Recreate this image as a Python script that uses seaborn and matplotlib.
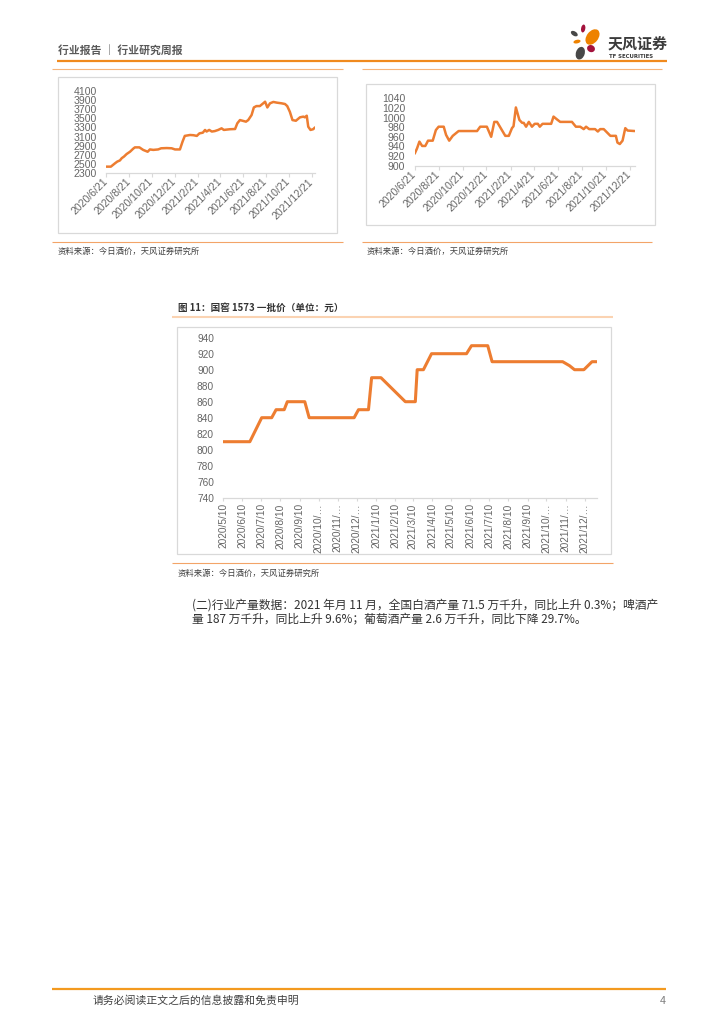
import numpy as np
import pandas as pd
import matplotlib
matplotlib.use("Agg")
import matplotlib.pyplot as plt
import seaborn as sns
from matplotlib.patches import Rectangle, Ellipse

# ---------------- data ----------------
c1_dates = ["2020-06-21", "2020-07-04", "2020-07-15", "2020-07-21", "2020-07-28", "2020-08-02",
            "2020-08-08", "2020-08-15", "2020-08-24", "2020-09-02", "2020-09-06", "2020-09-18",
            "2020-09-28", "2020-10-10", "2020-10-16", "2020-10-25", "2020-11-07", "2020-11-15",
            "2020-11-30", "2020-12-13", "2020-12-22", "2021-01-04", "2021-01-11", "2021-01-17",
            "2021-01-31", "2021-02-09", "2021-02-18", "2021-02-25", "2021-03-06", "2021-03-12",
            "2021-03-16", "2021-03-23", "2021-03-30", "2021-04-07", "2021-04-16", "2021-04-25",
            "2021-05-01", "2021-05-17", "2021-05-31", "2021-06-06", "2021-06-13", "2021-06-20",
            "2021-06-29", "2021-07-05", "2021-07-14", "2021-07-20", "2021-07-27", "2021-08-05",
            "2021-08-14", "2021-08-19", "2021-08-25", "2021-09-01", "2021-09-10", "2021-09-19",
            "2021-10-02", "2021-10-11", "2021-10-17", "2021-10-24", "2021-10-31", "2021-11-09",
            "2021-11-20", "2021-11-29", "2021-12-03", "2021-12-08", "2021-12-12", "2021-12-18",
            "2021-12-25", "2021-12-30"]
c1_values = [2445, 2445, 2518, 2555, 2580, 2630, 2665, 2720, 2770, 2840, 2865, 2865,
             2810, 2770, 2820, 2810, 2820, 2845, 2850, 2845, 2820, 2820, 2990, 3115,
             3135, 3130, 3115, 3170, 3185, 3245, 3210, 3245, 3210, 3220, 3245, 3280,
             3245, 3260, 3265, 3390, 3460, 3445, 3425, 3460, 3570, 3735, 3765, 3765,
             3825, 3860, 3735, 3825, 3855, 3840, 3825, 3810, 3765, 3640, 3460, 3445,
             3520, 3535, 3520, 3555, 3315, 3245, 3260, 3300]

c2_dates = ["2020-06-21", "2020-06-27", "2020-07-03", "2020-07-10", "2020-07-18", "2020-07-25",
            "2020-08-06", "2020-08-14", "2020-08-21", "2020-09-03", "2020-09-09", "2020-09-17",
            "2020-09-26", "2020-10-11", "2020-11-27", "2020-12-05", "2020-12-22", "2021-01-02",
            "2021-01-10", "2021-01-17", "2021-02-07", "2021-02-16", "2021-02-24", "2021-02-28",
            "2021-03-06", "2021-03-15", "2021-03-22", "2021-03-26", "2021-04-01", "2021-04-08",
            "2021-04-16", "2021-04-23", "2021-05-01", "2021-05-06", "2021-05-13", "2021-06-04",
            "2021-06-10", "2021-06-19", "2021-06-27", "2021-07-27", "2021-08-06", "2021-08-17",
            "2021-08-26", "2021-09-01", "2021-09-09", "2021-09-24", "2021-10-01", "2021-10-07",
            "2021-10-16", "2021-11-02", "2021-11-16", "2021-11-20", "2021-11-26", "2021-12-03",
            "2021-12-10", "2021-12-16", "2022-01-03"]
c2_values = [925, 936, 950, 941, 941, 952, 952, 974, 981, 981, 964, 952,
             962, 972, 972, 981, 981, 960, 991, 991, 962, 962, 978, 982,
             1021, 995, 989, 989, 981, 991, 981, 987, 987, 981, 987, 987,
             1002, 996, 991, 991, 981, 981, 976, 981, 976, 976, 971, 976,
             976, 962, 962, 948, 945, 952, 978, 973, 972]
c12_ticks = ["2020-06-21", "2020-08-21", "2020-10-21", "2020-12-21", "2021-02-21",
             "2021-04-21", "2021-06-21", "2021-08-21", "2021-10-21", "2021-12-21"]
c12_tick_labels = ["2020/6/21", "2020/8/21", "2020/10/21", "2020/12/21", "2021/2/21",
                   "2021/4/21", "2021/6/21", "2021/8/21", "2021/10/21", "2021/12/21"]
c1_yticks = [2300, 2500, 2700, 2900, 3100, 3300, 3500, 3700, 3900, 4100]
c2_yticks = [900, 920, 940, 960, 980, 1000, 1020, 1040]

c3_dates = ["2020-05-10", "2020-06-22", "2020-07-11", "2020-07-27", "2020-08-03", "2020-08-16",
            "2020-08-21", "2020-09-18", "2020-09-25", "2020-12-06", "2020-12-13", "2020-12-29",
            "2021-01-03", "2021-01-18", "2021-02-26", "2021-03-14", "2021-03-17", "2021-03-27",
            "2021-04-09", "2021-06-04", "2021-06-12", "2021-07-08", "2021-07-15", "2021-11-05",
            "2021-11-16", "2021-11-24", "2021-12-09", "2021-12-22", "2021-12-30"]
c3_values = [810, 810, 840, 840, 850, 850, 860, 860, 840, 840, 850, 850,
             890, 890, 860, 860, 900, 900, 920, 920, 930, 930, 910, 910,
             905, 900, 900, 910, 910]
c3_ticks = ["2020-05-10", "2020-06-10", "2020-07-10", "2020-08-10", "2020-09-10", "2020-10-10",
            "2020-11-10", "2020-12-10", "2021-01-10", "2021-02-10", "2021-03-10", "2021-04-10",
            "2021-05-10", "2021-06-10", "2021-07-10", "2021-08-10", "2021-09-10", "2021-10-10",
            "2021-11-10", "2021-12-10"]
c3_tick_labels = ["2020/5/10", "2020/6/10", "2020/7/10", "2020/8/10", "2020/9/10", "2020/10/…",
                  "2020/11/…", "2020/12/…", "2021/1/10", "2021/2/10", "2021/3/10", "2021/4/10",
                  "2021/5/10", "2021/6/10", "2021/7/10", "2021/8/10", "2021/9/10", "2021/10/…",
                  "2021/11/…", "2021/12/…"]
c3_yticks = [740, 760, 780, 800, 820, 840, 860, 880, 900, 920, 940]

header_text = "行业报告 ｜ 行业研究周报"
source_text = "资料来源：今日酒价，天风证券研究所"
fig3_title = "图 11：国窖 1573 一批价（单位：元）"
para_line1 = "(二)行业产量数据：2021 年月 11 月，全国白酒产量 71.5 万千升，同比上升 0.3%；啤酒产"
para_line2 = "量 187 万千升，同比上升 9.6%；葡萄酒产量 2.6 万千升，同比下降 29.7%。"
footer_text = "请务必阅读正文之后的信息披露和免责申明"
page_no = "4"

# ---------------- style ----------------
sns.set_theme(style="white")
plt.rcParams['font.family'] = ['Noto Sans CJK SC', 'DejaVu Sans']

W, H = 724, 1024
ORANGE = "#ED7D31"
TICK = "#666666"
fig = plt.figure(figsize=(7.24, 10.24), dpi=100)

bg = fig.add_axes([0, 0, 1, 1])
bg.set_xlim(0, W)
bg.set_ylim(H, 0)
bg.axis('off')


def ax_at(x0, y0, x1, y1):
    return fig.add_axes([x0 / W, 1 - y1 / H, (x1 - x0) / W, (y1 - y0) / H])


def hline(x0, x1, y, color, lw):
    bg.plot([x0, x1], [y, y], color=color, lw=lw, solid_capstyle='butt')


def box(x0, y0, x1, y1):
    bg.add_patch(Rectangle((x0, y0), x1 - x0, y1 - y0, fill=False, ec='#d9d9d9', lw=0.9))


def txt(x, y, s, **kw):
    bg.text(x, y, s, va='center', ha=kw.pop('ha', 'left'), **kw)


def style_ax(ax, yticks, ylab_size, ypad):
    ax.set_facecolor('none')
    ax.set_ylim(yticks[0], yticks[-1])
    ax.set_yticks(yticks)
    ax.set_yticklabels([str(v) for v in yticks])
    for s in ['top', 'right', 'left']:
        ax.spines[s].set_visible(False)
    ax.spines['bottom'].set_color('#d9d9d9')
    ax.spines['bottom'].set_linewidth(0.9)
    ax.tick_params(axis='y', length=0, pad=ypad, labelsize=ylab_size, labelcolor=TICK)
    ax.tick_params(axis='x', bottom=True, length=3, width=0.8, color='#d9d9d9',
                   labelsize=ylab_size, labelcolor=TICK)
    ax.set_xlabel('')
    ax.set_ylabel('')
    for lab in ax.get_yticklabels() + ax.get_xticklabels():
        lab.set_family(['Liberation Sans', 'DejaVu Sans'])


# ---------------- header ----------------
txt(58, 50.5, header_text, fontsize=7.8, fontweight='bold', color='#595959')
hline(57, 667, 60.7, '#F08A1E', 1.6)
# logo petals
petals = [((583.2, 28.5), 4.2, 8.0, 10, '#A3123C'),
          ((574.3, 33.6), 7.6, 4.4, 32, '#474747'),
          ((592.5, 37.0), 17.5, 11.5, -52, '#EE8200'),
          ((577.0, 41.6), 7.2, 3.6, -12, '#EE8200'),
          ((591.0, 48.6), 8.0, 7.0, 25, '#A3123C'),
          ((580.3, 53.2), 8.8, 13.0, 18, '#474747')]
for (c, w, h, a, col) in petals:
    bg.add_patch(Ellipse(c, w, h, angle=a, color=col, lw=0))
txt(608, 43.5, "天风证券", fontsize=10.8, fontweight='bold', color='#3A3A3A')
txt(609, 56.3, "TF SECURITIES", fontsize=3.9, fontweight='bold', color='#3A3A3A',
    family=['DejaVu Sans'])

# ---------------- top two charts ----------------
hline(52, 343, 69.3, '#F6B57C', 0.8)
hline(362, 662, 69.3, '#F6B57C', 0.8)
hline(52, 343, 241.7, '#F3A468', 0.8)
hline(362, 652, 241.7, '#F3A468', 0.8)
box(58, 77, 337, 233)
box(366, 84, 655, 225)
txt(58, 251.5, source_text, fontsize=6, color='#404040')
txt(367, 251.5, source_text, fontsize=6, color='#404040')

df1 = pd.DataFrame({"date": pd.to_datetime(c1_dates), "price": c1_values})
ax1 = ax_at(106, 90.7, 315, 173.3)
sns.lineplot(data=df1, x="date", y="price", ax=ax1, color=ORANGE, lw=1.8)
ax1.set_xlim(pd.Timestamp("2020-06-21"), pd.Timestamp("2021-12-30"))
ax1.set_xticks(pd.to_datetime(c12_ticks))
ax1.set_xticklabels(c12_tick_labels)
style_ax(ax1, c1_yticks, 7.6, 6.5)
ax1.tick_params(axis='x', pad=2)
plt.setp(ax1.get_xticklabels(), rotation=45, ha='right', va='center', rotation_mode='anchor')

df2 = pd.DataFrame({"date": pd.to_datetime(c2_dates), "price": c2_values})
ax2 = ax_at(414.7, 98.3, 634.7, 165.7)
sns.lineplot(data=df2, x="date", y="price", ax=ax2, color=ORANGE, lw=1.8)
ax2.set_xlim(pd.Timestamp("2020-06-21"), pd.Timestamp("2022-01-03"))
ax2.set_xticks(pd.to_datetime(c12_ticks))
ax2.set_xticklabels(c12_tick_labels)
style_ax(ax2, c2_yticks, 7.6, 7)
ax2.tick_params(axis='x', pad=2)
plt.setp(ax2.get_xticklabels(), rotation=45, ha='right', va='center', rotation_mode='anchor')

# ---------------- figure 11 ----------------
txt(178, 307.7, fig3_title, fontsize=6.9, fontweight='bold', color='#333333')
hline(172, 613, 316.7, '#FBD3B2', 1.5)
box(177, 327, 611, 554)
hline(172, 613, 563.3, '#F3A468', 0.8)
txt(178, 573.5, source_text, fontsize=6, color='#404040')

df3 = pd.DataFrame({"date": pd.to_datetime(c3_dates), "price": c3_values})
ax3 = ax_at(223, 337.7, 597, 497.7)
sns.lineplot(data=df3, x="date", y="price", ax=ax3, color=ORANGE, lw=2.2)
ax3.set_xlim(pd.Timestamp("2020-05-10"), pd.Timestamp("2021-12-30"))
ax3.set_xticks(pd.to_datetime(c3_ticks))
ax3.set_xticklabels(c3_tick_labels)
style_ax(ax3, c3_yticks, 7.3, 6.5)
ax3.tick_params(axis='x', pad=1.5, length=2.5)
plt.setp(ax3.get_xticklabels(), rotation=90, ha='center', va='top')

# ---------------- paragraph ----------------
txt(191.7, 605.5, para_line1, fontsize=8.5, color='#333333')
txt(191.7, 618.5, para_line2, fontsize=8.5, color='#333333')

# ---------------- footer ----------------
hline(52, 666, 989.3, '#F39A1F', 1.6)
txt(93, 1000.7, footer_text, fontsize=7.8, color='#404040')
txt(663, 1000.7, page_no, fontsize=7.8, color='#808080', ha='center')

fig.savefig("out.png", dpi=100)
